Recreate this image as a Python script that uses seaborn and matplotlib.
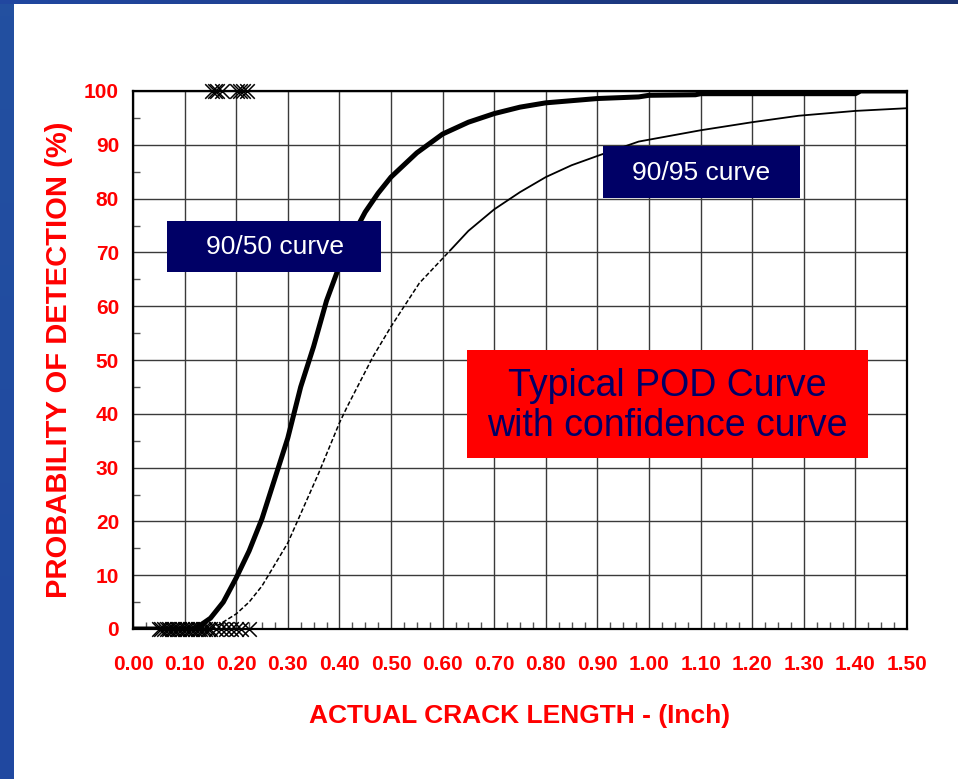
import numpy as np
import pandas as pd
import matplotlib
matplotlib.use("Agg")
import matplotlib.pyplot as plt
import seaborn as sns
from matplotlib.ticker import MultipleLocator, FormatStrFormatter

# ---- data ----
pod50_x = [0.00, 0.12, 0.15, 0.175, 0.20, 0.225, 0.25, 0.275, 0.30, 0.325, 0.35, 0.375,
           0.40, 0.425, 0.45, 0.475, 0.50, 0.55, 0.60, 0.65, 0.70, 0.75, 0.80, 0.90,
           0.98, 1.00, 1.09, 1.10, 1.20, 1.30, 1.40, 1.41, 1.50]
pod50_y = [0.0, 0.0, 2.0, 5.0, 9.5, 14.5, 20.5, 28.0, 35.5, 45.0, 52.5, 61.0,
           67.5, 73.0, 77.5, 81.0, 84.0, 88.5, 92.0, 94.2, 95.8, 97.0, 97.8, 98.6,
           98.9, 99.2, 99.3, 99.5, 99.5, 99.5, 99.5, 100.0, 100.0]

pod95_x = [0.15, 0.17, 0.20, 0.225, 0.25, 0.275, 0.30, 0.33, 0.36, 0.40, 0.415, 0.465,
           0.50, 0.525, 0.555, 0.615, 0.65, 0.70, 0.75, 0.80, 0.85, 0.905, 0.98,
           1.10, 1.20, 1.29, 1.40, 1.50]
pod95_y = [0.0, 1.0, 2.8, 5.0, 8.0, 12.0, 16.0, 22.5, 29.0, 38.3, 41.3, 50.6,
           56.2, 59.9, 64.3, 70.4, 74.0, 78.0, 81.2, 84.0, 86.2, 88.1, 90.6,
           92.7, 94.2, 95.4, 96.3, 96.8]

hits_x = [0.153, 0.158, 0.163, 0.172, 0.202, 0.208, 0.213, 0.221]
hits_y = [100] * len(hits_x)

miss_x = [0.050, 0.055, 0.060, 0.065, 0.070, 0.075, 0.080, 0.085, 0.090, 0.095,
          0.100, 0.105, 0.110, 0.115, 0.120, 0.125, 0.130, 0.135, 0.140, 0.145,
          0.150, 0.160, 0.170, 0.180, 0.190, 0.200, 0.210, 0.225]
miss_y = [0] * len(miss_x)

x_ticks = [0.00, 0.10, 0.20, 0.30, 0.40, 0.50, 0.60, 0.70, 0.80, 0.90, 1.00,
           1.10, 1.20, 1.30, 1.40, 1.50]
y_ticks = [0, 10, 20, 30, 40, 50, 60, 70, 80, 90, 100]

label_5050 = "90/50 curve"
label_9095 = "90/95 curve"
title_box = "Typical POD Curve\nwith confidence curve"
x_label = "ACTUAL CRACK LENGTH - (Inch)"
y_label = "PROBABILITY OF DETECTION (%)"

# ---- styling ----
sns.set_style("white")
plt.rcParams["font.family"] = ["Liberation Sans", "DejaVu Sans"]

W, H = 958, 779
fig = plt.figure(figsize=(W / 100, H / 100), dpi=100)
fig.patch.set_facecolor("white")

# slide border (left strip and top strip)
left_ax = fig.add_axes([0, 0, 14 / W, 1])
left_ax.imshow(np.linspace(0, 1, 50).reshape(-1, 1), aspect="auto",
               cmap=matplotlib.colors.LinearSegmentedColormap.from_list("b", ["#2350a0", "#2048a0"]),
               extent=[0, 1, 0, 1])
left_ax.axis("off")
top_ax = fig.add_axes([0, 1 - 4 / H, 1, 4 / H])
top_ax.imshow(np.linspace(0, 1, 100).reshape(1, -1), aspect="auto",
              cmap=matplotlib.colors.LinearSegmentedColormap.from_list("t", ["#2147a0", "#1a3170"]),
              extent=[0, 1, 0, 1])
top_ax.axis("off")

x0, x1, y0, y1 = 133, 907, 91, 629
ax = fig.add_axes([x0 / W, (H - y1) / H, (x1 - x0) / W, (y1 - y0) / H])
ax.set_facecolor("white")

df50 = pd.DataFrame({"x": pod50_x, "y": pod50_y})
df95 = pd.DataFrame({"x": pod95_x, "y": pod95_y})
lower = df95[df95["x"] <= 0.62]
upper = df95[df95["x"] >= 0.615]

sns.lineplot(data=df50, x="x", y="y", ax=ax, color="black", linewidth=3.6,
             estimator=None, sort=False, zorder=4)
sns.lineplot(data=lower, x="x", y="y", ax=ax, color="black", linewidth=1.1,
             linestyle=(0, (3, 1.5)), estimator=None, sort=False, zorder=4)
sns.lineplot(data=upper, x="x", y="y", ax=ax, color="black", linewidth=1.3,
             estimator=None, sort=False, zorder=4)

sns.scatterplot(x=hits_x, y=hits_y, ax=ax, marker="x", s=110, color="black",
                linewidth=1.1, clip_on=False, zorder=5)
sns.scatterplot(x=miss_x, y=miss_y, ax=ax, marker="x", s=110, color="black",
                linewidth=1.1, clip_on=False, zorder=5)

ax.set_xlim(0, 1.5)
ax.set_ylim(0, 100)
ax.set_xticks(x_ticks)
ax.set_yticks(y_ticks)
ax.xaxis.set_major_formatter(FormatStrFormatter("%.2f"))
ax.xaxis.set_minor_locator(MultipleLocator(0.025))
ax.yaxis.set_minor_locator(MultipleLocator(5))
ax.grid(True, which="major", color="#3a3a3a", linewidth=1.0)
ax.set_axisbelow(True)
for s in ax.spines.values():
    s.set_visible(True)
    s.set_color("black")
    s.set_linewidth(1.6)

ax.tick_params(axis="both", which="major", direction="in", length=0, width=1,
               labelsize=15, labelcolor="#ff0000", bottom=True, left=True)
ax.tick_params(axis="x", which="major", pad=19)
ax.tick_params(axis="y", which="major", pad=10)
ax.tick_params(axis="both", which="minor", direction="in", length=5, width=1,
               color="#555555", bottom=True, left=True)
for lab in ax.get_xticklabels() + ax.get_yticklabels():
    lab.set_fontweight("bold")

ax.set_xlabel(x_label, fontsize=19, fontweight="bold", color="#ff0000", labelpad=21)
ax.set_ylabel(y_label, fontsize=21, fontweight="bold", color="#ff0000", labelpad=8)

def px_box(xa, ya, xb, yb, face):
    from matplotlib.patches import Rectangle
    r = Rectangle((xa / W, 1 - yb / H), (xb - xa) / W, (yb - ya) / H,
                  transform=fig.transFigure, facecolor=face, edgecolor="none", zorder=10)
    fig.patches.append(r)

px_box(167, 221, 381, 272, "#000066")
fig.text(275 / W, 1 - 247 / H, label_5050, ha="center", va="center", color="white",
         fontsize=19, zorder=11)
px_box(603, 146, 800, 198, "#000066")
fig.text(701 / W, 1 - 173 / H, label_9095, ha="center", va="center", color="white",
         fontsize=19, zorder=11)
px_box(467, 350, 868, 458, "#ff0000")
fig.text(667 / W, 1 - 406 / H, title_box, ha="center", va="center", color="#000066",
         fontsize=27, linespacing=1.15, zorder=11)

fig.savefig("out.png", dpi=100)
